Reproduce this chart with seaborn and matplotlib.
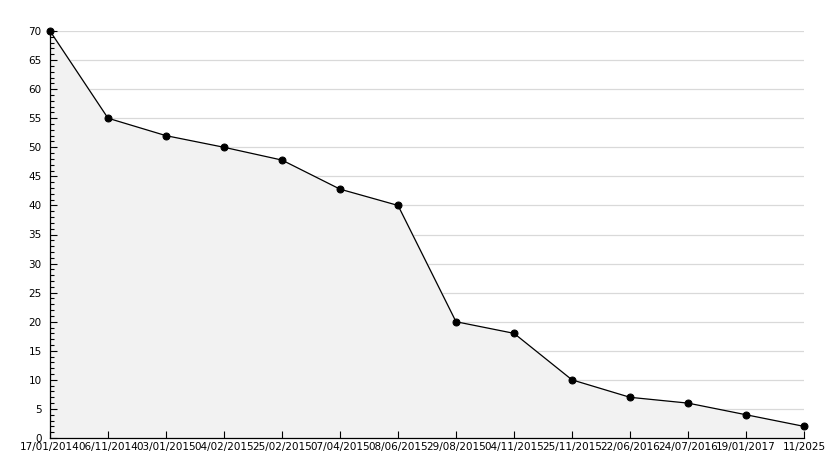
import matplotlib
matplotlib.use('Agg')
import matplotlib.pyplot as plt
from matplotlib.ticker import MultipleLocator
import seaborn as sns
import pandas as pd

dates = ['17/01/2014', '06/11/2014', '03/01/2015', '04/02/2015', '25/02/2015',
         '07/04/2015', '08/06/2015', '29/08/2015', '04/11/2015', '25/11/2015',
         '22/06/2016', '24/07/2016', '19/01/2017', '11/2025']
values = [70, 55, 52, 50, 47.8, 42.8, 40, 20, 18, 10, 7, 6, 4, 2]

df = pd.DataFrame({'idx': range(len(dates)), 'value': values})

sns.set_style('white')
plt.rcParams['font.family'] = ['DejaVu Sans']

fig = plt.figure(figsize=(8.34, 4.68), dpi=100)
ax = fig.add_axes([50 / 834, 1 - 438 / 468, 754 / 834, 407 / 468])

ax.fill_between(df['idx'], df['value'], 0, color='#f2f2f2', zorder=1)
sns.lineplot(data=df, x='idx', y='value', ax=ax, color='black', linewidth=0.9,
             marker='o', markersize=5, markeredgecolor='black', zorder=3,
             clip_on=False)

ax.set_xlim(0, len(dates) - 1)
ax.set_ylim(0, 70)
ax.set_xticks(df['idx'])
ax.set_xticklabels(dates)
ax.yaxis.set_major_locator(MultipleLocator(5))
ax.yaxis.set_minor_locator(MultipleLocator(1))

# grid below the filled area, ticks above it
ax.grid(False)
for yv in ax.get_yticks():
    if 0 < yv <= 70:
        ax.axhline(yv, color='#d9d9d9', linewidth=0.9, zorder=0.5)
ax.set_axisbelow(False)

for s in ['top', 'right']:
    ax.spines[s].set_visible(False)
for s in ['left', 'bottom']:
    ax.spines[s].set_color('black')
    ax.spines[s].set_linewidth(0.9)

ax.tick_params(axis='both', which='major', direction='in', length=5, width=0.8,
               color='black', labelcolor='black', labelsize=7.5, pad=3)
ax.tick_params(axis='y', which='minor', direction='in', length=3, width=0.8,
               color='black', left=True)
ax.tick_params(axis='y', which='major', left=True, pad=6)
ax.tick_params(axis='x', which='major', bottom=True)
ax.set_xlabel('')
ax.set_ylabel('')

fig.savefig('out.png', dpi=100)
